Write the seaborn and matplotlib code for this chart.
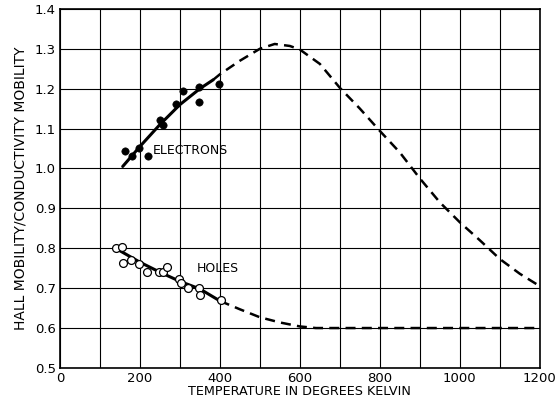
import numpy as np
import pandas as pd
import matplotlib
matplotlib.use('Agg')
import matplotlib.pyplot as plt
import seaborn as sns
from matplotlib.ticker import MultipleLocator, FormatStrFormatter

elec_T = [162, 181, 197, 221, 250, 258, 290, 307, 347, 347, 397]
elec_r = [1.044, 1.031, 1.052, 1.032, 1.121, 1.110, 1.161, 1.195, 1.167, 1.203, 1.212]

hole_T = [139, 154, 158, 177, 197, 218, 248, 258, 267, 297, 302, 320, 347, 350, 402]
hole_r = [0.800, 0.803, 0.762, 0.771, 0.761, 0.741, 0.740, 0.740, 0.753, 0.723, 0.713, 0.701, 0.700, 0.682, 0.671]

# fitted curves: solid part and dashed extrapolation
elec_fit_T = [157, 200, 250, 300, 350, 383]
elec_fit_r = [1.005, 1.055, 1.110, 1.160, 1.200, 1.222]
elec_ext_T = [383, 400, 450, 500, 537, 575, 600, 650, 700, 750, 800, 850, 900, 950, 1000, 1050, 1100, 1150, 1195]
elec_ext_r = [1.222, 1.236, 1.270, 1.300, 1.312, 1.307, 1.298, 1.262, 1.202, 1.150, 1.094, 1.040, 0.975, 0.915, 0.865, 0.820, 0.773, 0.736, 0.708]

hole_fit_T = [139, 200, 250, 300, 350, 400]
hole_fit_r = [0.800, 0.765, 0.740, 0.717, 0.698, 0.668]
hole_ext_T = [400, 450, 500, 550, 600, 640, 700, 800, 900, 1000, 1100, 1200]
hole_ext_r = [0.668, 0.647, 0.627, 0.614, 0.604, 0.600, 0.600, 0.600, 0.600, 0.600, 0.600, 0.600]

sns.set_style('white')
plt.rcParams['font.family'] = ['DejaVu Sans']
plt.rcParams['text.color'] = 'black'
plt.rcParams['axes.labelcolor'] = 'black'
plt.rcParams['xtick.color'] = 'black'
plt.rcParams['ytick.color'] = 'black'

fig = plt.figure(figsize=(5.6, 4.03), dpi=100)
ax = fig.add_axes([0.107, 0.087, 0.857, 0.891])

sns.lineplot(x=elec_fit_T, y=elec_fit_r, ax=ax, color='black', linewidth=2.2, sort=False)
sns.lineplot(x=elec_ext_T, y=elec_ext_r, ax=ax, color='black', linewidth=1.8,
             linestyle=(0, (4, 2.5)), sort=False)
sns.lineplot(x=hole_fit_T, y=hole_fit_r, ax=ax, color='black', linewidth=2.2, sort=False)
sns.lineplot(x=hole_ext_T, y=hole_ext_r, ax=ax, color='black', linewidth=1.8,
             linestyle=(0, (4, 2.5)), sort=False)

sns.scatterplot(x=elec_T, y=elec_r, ax=ax, color='black', s=28, edgecolor='black', zorder=5)
sns.scatterplot(x=hole_T, y=hole_r, ax=ax, facecolor='white', edgecolor='black',
                s=32, linewidth=0.9, zorder=5)

ax.text(233, 1.045, 'ELECTRONS', fontsize=9, va='center', ha='left')
ax.text(342, 0.748, 'HOLES', fontsize=9, va='center', ha='left')

ax.set_xlim(0, 1200)
ax.set_ylim(0.5, 1.4)
ax.xaxis.set_major_locator(MultipleLocator(200))
ax.xaxis.set_minor_locator(MultipleLocator(100))
ax.yaxis.set_major_locator(MultipleLocator(0.1))
ax.yaxis.set_major_formatter(FormatStrFormatter('%.1f'))
ax.grid(True, which='both', color='black', linewidth=0.8)
ax.tick_params(which='both', length=0, labelsize=9.5, pad=3)
for sp in ax.spines.values():
    sp.set_color('black')
    sp.set_linewidth(1.2)

ax.set_xlabel('TEMPERATURE IN DEGREES KELVIN', fontsize=9.2, labelpad=0)
ax.set_ylabel('HALL MOBILITY/CONDUCTIVITY MOBILITY', fontsize=10, labelpad=5)

fig.savefig('out.png', dpi=100, facecolor='white')
